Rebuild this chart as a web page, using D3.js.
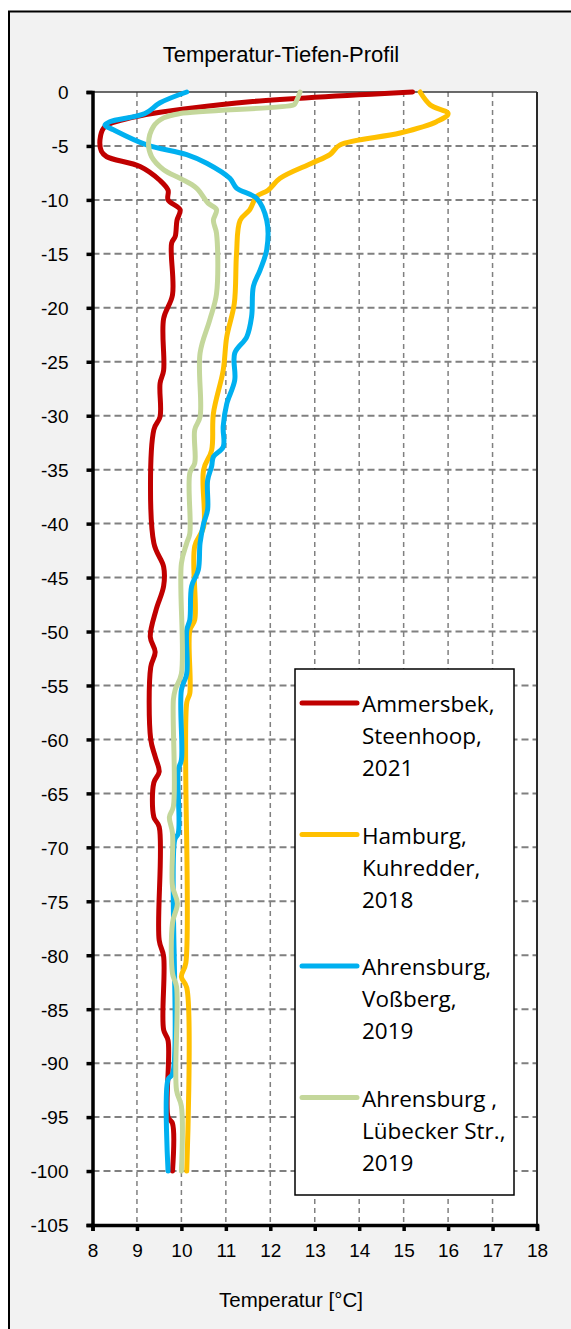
<!DOCTYPE html>
<html>
<head>
<meta charset="utf-8">
<script src="https://cdn.jsdelivr.net/npm/d3@7"></script>
<style>
  html, body { margin: 0; padding: 0; background: #ffffff; }
  svg { display: block; }
</style>
</head>
<body>
<svg id="chart" width="571" height="1329"></svg>
<script>
// ---------------- data ----------------
const titleText = "Temperatur-Tiefen-Profil";
const xAxisTitle = "Temperatur [°C]";
const xTicks = [8, 9, 10, 11, 12, 13, 14, 15, 16, 17, 18];
const yTicks = [0, -5, -10, -15, -20, -25, -30, -35, -40, -45, -50, -55, -60, -65, -70, -75, -80, -85, -90, -95, -100, -105];

const seriesNames = [
  ["Ammersbek,", "Steenhoop,", "2021"],
  ["Hamburg,", "Kuhredder,", "2018"],
  ["Ahrensburg,", "Voßberg,", "2019"],
  ["Ahrensburg ,", "Lübecker Str.,", "2019"]
];
const seriesColors = ["#C00000", "#FFC000", "#00B0F0", "#C4D79B"];

const ammersbekDepth = [0, -0.9, -1.5, -2.1, -3.2, -4.1, -5.5, -6, -6.9, -8.2, -9.1, -10, -10.9, -11.9, -13.4, -14, -18.8, -21, -25.8, -27, -30.1, -31.3, -41.8, -44, -45.8, -48, -50.5, -51.9, -53.3, -60, -61.6, -63, -64, -67.2, -68.1, -78.6, -80.1, -86.9, -87.9, -95, -95.6, -100];
const ammersbekTemp  = [15.2, 11.54, 10.2, 9.2, 8.28, 8.18, 8.2, 8.32, 9.07, 9.52, 9.7, 9.7, 9.97, 9.9, 9.86, 9.78, 9.8, 9.6, 9.6, 9.52, 9.52, 9.38, 9.38, 9.6, 9.6, 9.43, 9.3, 9.41, 9.31, 9.31, 9.41, 9.5, 9.38, 9.38, 9.5, 9.5, 9.6, 9.6, 9.7, 9.7, 9.8, 9.8];

const hamburgDepth = [0, -1.2, -2, -2.75, -3.8, -4.9, -5.8, -6.6, -8, -9.1, -9.7, -10.9, -11.9, -15, -19.6, -22.7, -25.8, -29.8, -33.2, -35, -40.3, -42.1, -48.9, -49.9, -55.7, -56.6, -80.7, -82, -83, -100];
const hamburgTemp  = [15.37, 15.6, 16.0, 15.74, 14.92, 13.57, 13.34, 12.93, 12.22, 11.95, 11.69, 11.54, 11.32, 11.24, 11.19, 11.02, 10.94, 10.72, 10.68, 10.5, 10.5, 10.3, 10.3, 10.19, 10.19, 10.12, 10.1, 10.0, 10.12, 10.12];

const vossbergDepth = [0, -1.0, -2, -2.75, -3.06, -3.5, -4.9, -5.8, -6.6, -8, -8.9, -9.85, -11.9, -14.6, -16.5, -18, -20.8, -22.7, -24.2, -26.7, -28.9, -31, -32.9, -33.8, -34.7, -36, -38.7, -40, -41.8, -44.3, -45.8, -48.9, -49.9, -53.9, -55.4, -61.9, -62.8, -68.7, -69.3, -91, -91.5, -100];
const vossbergTemp  = [10.12, 9.52, 9.18, 8.39, 8.28, 8.47, 9.22, 10.12, 10.57, 11.09, 11.24, 11.69, 11.92, 11.92, 11.77, 11.62, 11.58, 11.47, 11.2, 11.2, 11.02, 10.94, 10.94, 10.72, 10.68, 10.59, 10.59, 10.5, 10.42, 10.38, 10.23, 10.19, 10.12, 10.12, 10.0, 10.0, 9.93, 9.93, 9.85, 9.8, 9.7, 9.7];

const luebeckerDepth = [0, -1.05, -1.2, -2, -2.4, -3.2, -4.75, -6, -7.2, -8, -8.9, -10.3, -10.9, -11.9, -13.1, -18.7, -21.1, -24.2, -30.1, -31.3, -34.4, -35.3, -40.9, -41.8, -43.7, -53.9, -55.4, -56.3, -66.2, -67.2, -68.7, -73.6, -75.2, -77, -81.7, -82.9, -92.5, -94, -100];
const luebeckerTemp  = [12.67, 12.56, 12.52, 9.97, 9.6, 9.37, 9.26, 9.33, 9.6, 9.97, 10.34, 10.6, 10.79, 10.72, 10.79, 10.79, 10.64, 10.42, 10.42, 10.3, 10.3, 10.19, 10.19, 10.12, 10.0, 10.0, 9.86, 9.82, 9.82, 9.73, 9.8, 9.8, 9.91, 9.8, 9.8, 9.89, 9.89, 10.0, 10.0];

const seriesDepths = [ammersbekDepth, hamburgDepth, vossbergDepth, luebeckerDepth];
const seriesTemps = [ammersbekTemp, hamburgTemp, vossbergTemp, luebeckerTemp];

// ---------------- layout ----------------
const svg = d3.select("#chart");
const W = 571, H = 1329;
const plot = { left: 92.5, right: 537, top: 92, bottom: 1225 };

const x = d3.scaleLinear().domain([8, 18]).range([plot.left, plot.right]);
const y = d3.scaleLinear().domain([-105, 0]).range([plot.bottom, plot.top]);

// chart background + outer frame
svg.append("rect").attr("x", 0).attr("y", 0).attr("width", W).attr("height", H).attr("fill", "#ffffff");
svg.append("rect").attr("x", 9).attr("y", 11.5).attr("width", W + 20).attr("height", H + 20)
  .attr("fill", "#f2f2f2").attr("stroke", "#000").attr("stroke-width", 2);

// plot area
svg.append("rect").attr("x", plot.left).attr("y", plot.top)
  .attr("width", plot.right - plot.left).attr("height", plot.bottom - plot.top)
  .attr("fill", "#ffffff");

// grid lines
const gridG = svg.append("g");
gridG.selectAll("line.hg").data(yTicks.filter(d => d !== 0 && d !== -105)).enter()
  .append("line")
  .attr("x1", plot.left).attr("x2", plot.right)
  .attr("y1", d => y(d)).attr("y2", d => y(d))
  .attr("stroke", "#808080").attr("stroke-width", 2).attr("stroke-dasharray", "7,4");
gridG.selectAll("line.vg").data(xTicks.filter(d => d !== 8 && d !== 18)).enter()
  .append("line")
  .attr("x1", d => x(d)).attr("x2", d => x(d))
  .attr("y1", plot.top).attr("y2", plot.bottom)
  .attr("stroke", "#808080").attr("stroke-width", 1.5).attr("stroke-dasharray", "5,4");

// plot border top/right
svg.append("line").attr("x1", plot.left).attr("x2", plot.right).attr("y1", plot.top).attr("y2", plot.top)
  .attr("stroke", "#3a3a3a").attr("stroke-width", 1.5);
svg.append("line").attr("x1", plot.right).attr("x2", plot.right).attr("y1", plot.top).attr("y2", plot.bottom)
  .attr("stroke", "#2a2a2a").attr("stroke-width", 2);

// series lines
const line = d3.line()
  .x(d => x(d[1]))
  .y(d => y(d[0]))
  .curve(d3.curveCatmullRom.alpha(0.5));

const linesG = svg.append("g");
seriesDepths.forEach((depths, i) => {
  const pts = depths.map((dp, j) => [dp, seriesTemps[i][j]]);
  linesG.append("path")
    .attr("d", line(pts))
    .attr("fill", "none")
    .attr("stroke", seriesColors[i])
    .attr("stroke-width", 5)
    .attr("stroke-linejoin", "round")
    .attr("stroke-linecap", "round");
});

// axes
const axisFont = "'Liberation Sans', Arial, sans-serif";
const yAxis = d3.axisLeft(y).tickValues(yTicks).tickSize(6).tickPadding(18).tickFormat(d => String(d));
const yG = svg.append("g").attr("transform", `translate(${plot.left},0)`).call(yAxis);
yG.select(".domain").attr("stroke", "#000").attr("stroke-width", 3.5);
yG.selectAll(".tick line").attr("stroke", "#000").attr("stroke-width", 3.5);
yG.selectAll(".tick text").attr("font-family", axisFont).attr("font-size", 19).attr("fill", "#000")
  .attr("dy", "0.36em");

const xAxis = d3.axisBottom(x).tickValues(xTicks).tickSize(6).tickPadding(13).tickFormat(d => String(d));
const xG = svg.append("g").attr("transform", `translate(0,${plot.bottom})`).call(xAxis);
xG.select(".domain").attr("stroke", "#000").attr("stroke-width", 3.5);
xG.selectAll(".tick line").attr("stroke", "#000").attr("stroke-width", 3.5);
xG.selectAll(".tick text").attr("font-family", axisFont).attr("font-size", 19).attr("fill", "#000");

// title
svg.append("text").attr("x", 281).attr("y", 62).attr("text-anchor", "middle")
  .attr("font-family", axisFont).attr("font-size", 22).attr("fill", "#000").text(titleText);

svg.append("text").attr("x", 291).attr("y", 1307).attr("text-anchor", "middle")
  .attr("font-family", axisFont).attr("font-size", 20.5).attr("fill", "#000").text(xAxisTitle);

// legend
const legend = { x: 295, y: 669, w: 219, h: 526 };
const legG = svg.append("g");
legG.append("rect").attr("x", legend.x).attr("y", legend.y).attr("width", legend.w).attr("height", legend.h)
  .attr("fill", "#ffffff").attr("stroke", "#000").attr("stroke-width", 1.5);
const legendFont = "'Open Sans', 'Noto Sans', sans-serif";
seriesNames.forEach((lines, i) => {
  const cy = 703 + i * 131.5;
  legG.append("line").attr("x1", 302).attr("x2", 357).attr("y1", cy).attr("y2", cy)
    .attr("stroke", seriesColors[i]).attr("stroke-width", 5).attr("stroke-linecap", "round");
  lines.forEach((t, k) => {
    legG.append("text").attr("x", 362).attr("y", cy + 9 + k * 32)
      .attr("font-family", legendFont).attr("font-size", 22.5).attr("fill", "#000").text(t);
  });
});
</script>
</body>
</html>
